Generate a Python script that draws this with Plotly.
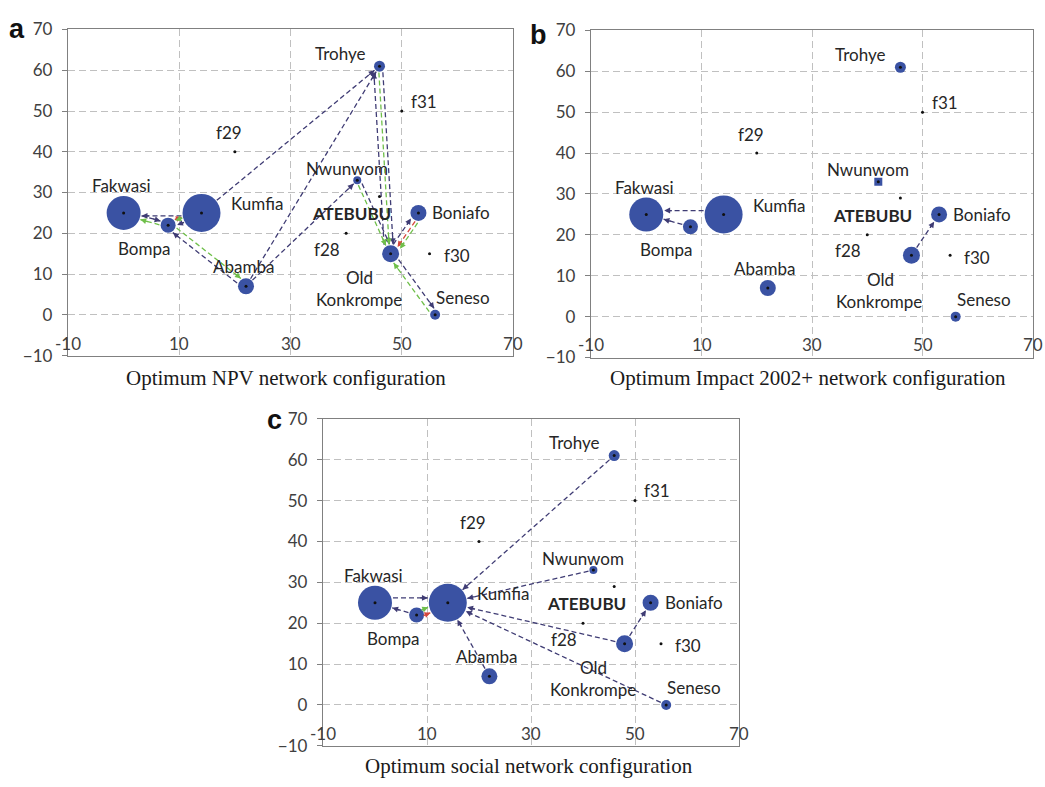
import math
import plotly.graph_objects as go

# ---------------- data ----------------
sites = ["Fakwasi", "Kumfia", "Bompa", "Abamba", "Trohye", "Nwunwom", "Boniafo",
         "Old Konkrompe", "Seneso", "ATEBUBU", "f28", "f29", "f30", "f31"]
site_x = [0, 14, 8, 22, 46, 42, 53, 48, 56, 46, 40, 20, 55, 50]
site_y = [25, 25, 22, 7, 61, 33, 25, 15, 0, 29, 20, 40, 15, 50]
capacity = [34, 38, 15, 16, 11, 8, 16, 17, 10, 0, 0, 0, 0, 0]   # relative bubble size

x_ticks = [-10, 10, 30, 50, 70]
y_ticks = [-10, 0, 10, 20, 30, 40, 50, 60, 70]

panel_letters = ["a", "b", "c"]
panel_titles = ["Optimum NPV network configuration",
                "Optimum Impact 2002+ network configuration",
                "Optimum social network configuration"]

# flows: (from, to, product)
flows_a = [("Kumfia", "Fakwasi", "p"), ("Fakwasi", "Bompa", "p"), ("Bompa", "Fakwasi", "g"),
           ("Bompa", "Kumfia", "r"), ("Kumfia", "Bompa", "p"), ("Kumfia", "Bompa", "g"),
           ("Kumfia", "Trohye", "p"), ("Abamba", "Trohye", "p"), ("Abamba", "Bompa", "p"),
           ("Bompa", "Abamba", "g"), ("Abamba", "Nwunwom", "p"),
           ("Nwunwom", "Old Konkrompe", "p"), ("Nwunwom", "Old Konkrompe", "g"),
           ("Trohye", "Old Konkrompe", "p"), ("Trohye", "Old Konkrompe", "g"),
           ("Old Konkrompe", "Trohye", "p"), ("Old Konkrompe", "Boniafo", "p"),
           ("Boniafo", "Old Konkrompe", "r"), ("Boniafo", "Old Konkrompe", "g"),
           ("Old Konkrompe", "Seneso", "p"), ("Seneso", "Old Konkrompe", "g")]
flows_b = [("Kumfia", "Fakwasi", "p"), ("Bompa", "Fakwasi", "p"),
           ("Old Konkrompe", "Boniafo", "p")]
flows_c = [("Trohye", "Kumfia", "p"), ("Nwunwom", "Kumfia", "p"),
           ("Old Konkrompe", "Kumfia", "p"), ("Seneso", "Kumfia", "p"),
           ("Abamba", "Kumfia", "p"), ("Fakwasi", "Kumfia", "p"),
           ("Bompa", "Fakwasi", "p"), ("Bompa", "Kumfia", "g"), ("Bompa", "Kumfia", "r"),
           ("Old Konkrompe", "Boniafo", "p")]

# ---------------- layout / style ----------------
W, H = 1045, 787
panels = [dict(x0=68, x1=513, y0=19, y1=354),
          dict(x0=591, x1=1033, y0=20, y1=356),
          dict(x0=323, x1=739, y0=419, y1=755)]
title_pos = [(286, 377), (808, 377), (529, 776)]
letter_pos = [(17, 19), (538, 25), (274, 420)]
XR = (-10, 70)
YR = (-10, 70)
BLUE = "#3a52a3"
FLOW_COL = {"p": "#3f3c74", "g": "#6fbf4a", "r": "#d4473d"}
TICK_FONT = dict(family="Lato, Arial", size=17, color="#404040")
LAB_FONT = dict(family="Lato, Arial", size=17, color="#262626")

# label pixel offsets relative to the site (one per text line)
label_off = {"Fakwasi": [(-2, 27)], "Kumfia": [(55, 9)], "Bompa": [(-24, -23)],
             "Abamba": [(-3, 20)], "Trohye": [(-40, 13)], "Nwunwom": [(-10, 12)],
             "Boniafo": [(43, 0)], "Old Konkrompe": [(-31, -24), (-32, -46)],
             "Seneso": [(28, 17)], "ATEBUBU": [(-28, -17)], "f28": [(-19, -16)],
             "f29": [(-6, 19)], "f30": [(27, -2)], "f31": [(22, 10)]}

# perpendicular pixel offsets for parallel flows (by panel, in flow order)
flow_off = {0: [3, 2, 2, 3, 3, -2, 0, 0, 3, 3, 0, 3, -1, 3, -1, 6, 3, 2, 5, 3, 3],
            1: [-4, 0, 0],
            2: [0, 0, 0, 0, 0, 5, 0, 3, -3, 0]}

idx = {s: i for i, s in enumerate(sites)}
fig = go.Figure()


def radius(i):
    return capacity[i] / 2 if capacity[i] > 0 else 2


for k, pan in enumerate(panels):
    n = "" if k == 0 else str(k + 1)
    xa, ya = "x" + n, "y" + n
    kx = (pan["x1"] - pan["x0"]) / (XR[1] - XR[0])
    ky = (pan["y1"] - pan["y0"]) / (YR[1] - YR[0])
    dom_x = [pan["x0"] / W, pan["x1"] / W]
    dom_y = [1 - pan["y1"] / H, 1 - pan["y0"] / H]
    axis_common = dict(showline=True, mirror=True, linecolor="#808080",
                       linewidth=1.3, showgrid=True, gridcolor="#c0c0c0",
                       griddash="7px,4px", gridwidth=1, zeroline=False, fixedrange=True)
    fig.layout["xaxis" + n] = dict(axis_common, range=list(XR), domain=dom_x, anchor=ya,
                                   tickvals=x_ticks, showticklabels=False, ticks="")
    fig.layout["yaxis" + n] = dict(axis_common, range=list(YR), domain=dom_y, anchor=xa,
                                   tickvals=y_ticks, ticks="outside", ticklen=5,
                                   tickcolor="#808080", tickfont=TICK_FONT,
                                   ticklabelstandoff=6)

    # x tick labels (drawn inside, just above the bottom axis)
    for t in x_ticks:
        fig.add_annotation(x=t, y=YR[0], xref=xa, yref=ya, text=str(t), showarrow=False,
                           yanchor="bottom", xanchor="center", yshift=0, font=TICK_FONT)

    # flows
    flows = [flows_a, flows_b, flows_c][k]
    for j, (s, d, prod) in enumerate(flows):
        i0, i1 = idx[s], idx[d]
        sx, sy = site_x[i0] * kx, site_y[i0] * ky
        dx, dy = site_x[i1] * kx, site_y[i1] * ky
        L = math.hypot(dx - sx, dy - sy)
        ux, uy = (dx - sx) / L, (dy - sy) / L
        nx, ny = -uy, ux
        off = flow_off[k][j]
        r0, r1 = radius(i0), radius(i1)
        px0, py0 = sx + ux * (r0 + 1) + nx * off, sy + uy * (r0 + 1) + ny * off
        px1, py1 = dx - ux * (r1 + 1) + nx * off, dy - uy * (r1 + 1) + ny * off
        col = FLOW_COL[prod]
        fig.add_trace(go.Scatter(x=[px0 / kx, px1 / kx], y=[py0 / ky, py1 / ky], xaxis=xa,
                                 yaxis=ya, mode="lines", hoverinfo="skip", showlegend=False,
                                 line=dict(color=col, width=1.3, dash="5px,3px")))
        fig.add_annotation(x=px1 / kx, y=py1 / ky, xref=xa, yref=ya, text="",
                           showarrow=True, arrowhead=2, arrowsize=0.9, arrowwidth=1.3,
                           arrowcolor=col, ax=-ux * 9, ay=uy * 9, standoff=0)

    # bubbles
    bi = [i for i in range(len(sites)) if capacity[i] > 0]
    symbols = ["square" if (k == 1 and sites[i] == "Nwunwom") else "circle" for i in bi]
    fig.add_trace(go.Scatter(x=[site_x[i] for i in bi], y=[site_y[i] for i in bi],
                             xaxis=xa, yaxis=ya, mode="markers", showlegend=False,
                             hovertext=[sites[i] for i in bi],
                             marker=dict(size=[capacity[i] for i in bi], color=BLUE,
                                         opacity=1, symbol=symbols,
                                         line=dict(width=0))))
    # centre dots for all sites
    fig.add_trace(go.Scatter(x=site_x, y=site_y, xaxis=xa, yaxis=ya, mode="markers",
                             showlegend=False, hoverinfo="skip",
                             marker=dict(size=3, color="#111111", opacity=1,
                                         line=dict(width=0))))

    # site labels
    for i, s in enumerate(sites):
        words = [s] if len(label_off[s]) == 1 else s.split(" ")
        for wtxt, (ox, oy) in zip(words, label_off[s]):
            txt = "<b>" + wtxt + "</b>" if s == "ATEBUBU" else wtxt
            fig.add_annotation(x=site_x[i], y=site_y[i], xref=xa, yref=ya, text=txt,
                               showarrow=False, xshift=ox, yshift=oy, font=LAB_FONT,
                               align="center", xanchor="center", yanchor="middle")

    # panel title & letter
    tx, ty = title_pos[k]
    fig.add_annotation(x=tx / W, y=1 - ty / H, xref="paper", yref="paper",
                       text=panel_titles[k], showarrow=False, xanchor="center",
                       yanchor="middle",
                       font=dict(family="Liberation Serif, Times New Roman", size=21,
                                 color="#1a1a1a"))
    lx, ly = letter_pos[k]
    fig.add_annotation(x=lx / W, y=1 - ly / H, xref="paper", yref="paper",
                       text="<b>" + panel_letters[k] + "</b>", showarrow=False,
                       font=dict(family="Arial, Liberation Sans", size=27, color="#111111"),
                       xanchor="center", yanchor="middle")

fig.update_layout(width=W, height=H, margin=dict(l=0, r=0, t=0, b=0),
                  plot_bgcolor="white", paper_bgcolor="white", showlegend=False)

fig.write_html("out.html")
